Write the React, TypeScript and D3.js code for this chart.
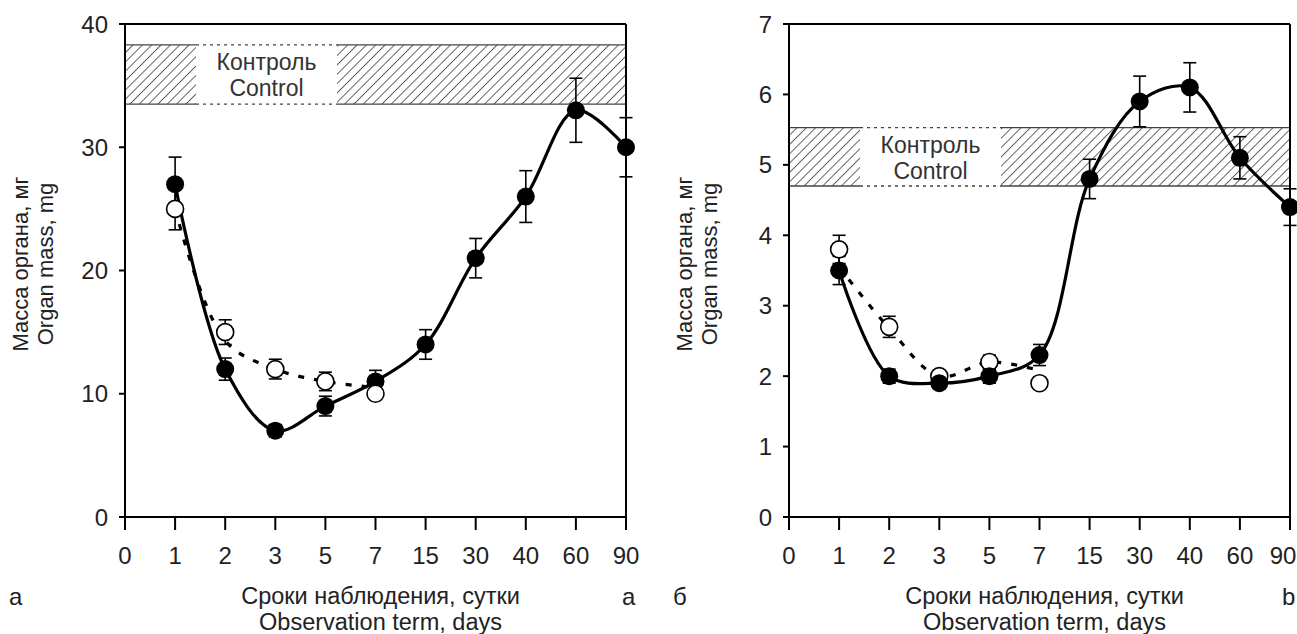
import React from 'react';
import * as d3 from 'd3';

// ---------- DATA ----------
const dayLabels = ["0", "1", "2", "3", "5", "7", "15", "30", "40", "60", "90"];
const filledDays = ["1", "2", "3", "5", "7", "15", "30", "40", "60", "90"];
const openDays = ["1", "2", "3", "5", "7"];

// Panel a
const leftFilled = [27, 12, 7, 9, 11, 14, 21, 26, 33, 30];
const leftFilledErr = [2.2, 0.9, 0.5, 0.8, 0.9, 1.2, 1.6, 2.1, 2.6, 2.4];
const leftOpen = [25, 15, 12, 11, 10];
const leftOpenErr = [1.7, 1.0, 0.8, 0.75, 0.4];
const leftOpenLine = [25, 14.3, 12, 11, 10.5];
const leftControl = [33.5, 38.3];
const leftYTicks = [0, 10, 20, 30, 40];

// Panel b
const rightFilled = [3.5, 2.0, 1.9, 2.0, 2.3, 4.8, 5.9, 6.1, 5.1, 4.4];
const rightFilledErr = [0.2, 0.1, 0.08, 0.1, 0.15, 0.28, 0.36, 0.35, 0.3, 0.26];
const rightOpen = [3.8, 2.7, 2.0, 2.2, 1.9];
const rightOpenErr = [0.2, 0.15, 0.08, 0.1, 0.08];
const rightOpenLine = [3.55, 2.68, 2.0, 2.2, 2.08];
const rightControl = [4.7, 5.53];
const rightYTicks = [0, 1, 2, 3, 4, 5, 6, 7];

const yTitle = ["Масса органа, мг", "Organ mass, mg"];
const xTitle = ["Сроки наблюдения, сутки", "Observation term, days"];
const controlText = ["Контроль", "Control"];

const FONT = "'Liberation Sans', Arial, sans-serif";
const TXT = "#222";
const FS = 24;
const W = 1297;

type PanelProps = {
  x0: number;
  x1: number;
  yMax: number;
  yTicks: number[];
  filled: number[];
  filledErr: number[];
  open: number[];
  openErr: number[];
  openLine: number[];
  control: number[];
  openOnTop: boolean;
  letterLeft: string;
  letterRight: string;
  hatchId: string;
};

function Panel(p: PanelProps) {
  const yTop = 24;
  const yBot = 517;
  const x = d3.scalePoint<string>().domain(dayLabels).range([p.x0, p.x1]);
  const y = d3.scaleLinear().domain([0, p.yMax]).range([yBot, yTop]);
  const line = d3
    .line<[string, number]>()
    .x((d) => x(d[0]) as number)
    .y((d) => y(d[1]))
    .curve(d3.curveCatmullRom.alpha(0.5));

  const filledPts: [string, number][] = filledDays.map((d, i) => [d, p.filled[i]]);
  const openLinePts: [string, number][] = openDays.map((d, i) => [d, p.openLine[i]]);

  const bandTop = y(p.control[1]);
  const bandBot = y(p.control[0]);
  const boxL = p.x0 + 71;
  const boxR = p.x0 + 212;
  const boxC = (boxL + boxR) / 2;
  const r = 9;
  const cap = 6.5;

  const errBars = (days: string[], vals: number[], errs: number[], key: string) =>
    days.map((d, i) => {
      const cx = x(d) as number;
      const t = y(vals[i] + errs[i]);
      const b = y(vals[i] - errs[i]);
      return (
        <g key={key + i} stroke="#000" strokeWidth={1.6}>
          <line x1={cx} x2={cx} y1={t} y2={b} />
          <line x1={cx - cap} x2={cx + cap} y1={t} y2={t} />
          <line x1={cx - cap} x2={cx + cap} y1={b} y2={b} />
        </g>
      );
    });

  const filledMarks = filledDays.map((d, i) => (
    <circle key={'f' + i} cx={x(d) as number} cy={y(p.filled[i])} r={r} fill="#000" />
  ));
  const openMarks = openDays.map((d, i) => (
    <circle key={'o' + i} cx={x(d) as number} cy={y(p.open[i])} r={r - 0.5} fill="#fff" stroke="#000" strokeWidth={1.6} />
  ));

  const cx = (p.x0 + p.x1) / 2 + 5;

  return (
    <g fontFamily={FONT}>
      {/* Control band */}
      <rect x={p.x0} y={bandTop} width={p.x1 - p.x0} height={bandBot - bandTop} fill={`url(#${p.hatchId})`} />
      <rect x={boxL} y={bandTop} width={boxR - boxL} height={bandBot - bandTop} fill="#fff" />
      <g stroke="#444" strokeWidth={1.3}>
        <line x1={p.x0} x2={boxL} y1={bandTop} y2={bandTop} />
        <line x1={boxR} x2={p.x1} y1={bandTop} y2={bandTop} />
        <line x1={p.x0} x2={boxL} y1={bandBot} y2={bandBot} />
        <line x1={boxR} x2={p.x1} y1={bandBot} y2={bandBot} />
        <line x1={boxL} x2={boxR} y1={bandTop} y2={bandTop} strokeDasharray="3,4" />
        <line x1={boxL} x2={boxR} y1={bandBot} y2={bandBot} strokeDasharray="3,4" />
      </g>
      <text x={boxC} y={bandTop + 25} textAnchor="middle" fontSize={23} fill="#333">{controlText[0]}</text>
      <text x={boxC} y={bandTop + 51} textAnchor="middle" fontSize={23} fill="#333">{controlText[1]}</text>

      {/* Axes box */}
      <g stroke="#000" strokeWidth={2} fill="none">
        <line x1={p.x0} x2={p.x0} y1={yTop} y2={yBot + 13} />
        <line x1={p.x1} x2={p.x1} y1={yTop} y2={yBot + 13} />
        <line x1={p.x0} x2={p.x1} y1={yBot} y2={yBot} />
        <line x1={p.x0} x2={p.x1} y1={yTop} y2={yTop} />
        {p.yTicks.map((t) => (
          <line key={'yt' + t} x1={p.x0 - 6} x2={p.x0} y1={y(t)} y2={y(t)} />
        ))}
        {dayLabels.map((d) => (
          <line key={'xt' + d} x1={x(d) as number} x2={x(d) as number} y1={yBot} y2={yBot + 13} />
        ))}
      </g>
      {p.yTicks.map((t) => (
        <text key={'yl' + t} x={p.x0 - 17} y={y(t)} dy="0.36em" textAnchor="end" fontSize={FS} fill={TXT}>
          {t}
        </text>
      ))}
      {dayLabels.map((d) => (
        <text key={'xl' + d} x={Math.min(x(d) as number, W - 14)} y={564} textAnchor="middle" fontSize={FS} fill={TXT}>
          {d}
        </text>
      ))}

      {/* Titles */}
      <text transform={`translate(${p.x0 - 97},264) rotate(-90)`} textAnchor="middle" fontSize={22} fill={TXT}>{yTitle[0]}</text>
      <text transform={`translate(${p.x0 - 72},264) rotate(-90)`} textAnchor="middle" fontSize={22} fill={TXT}>{yTitle[1]}</text>
      <text x={cx} y={604} textAnchor="middle" fontSize={23.5} fill={TXT}>{xTitle[0]}</text>
      <text x={cx} y={630} textAnchor="middle" fontSize={23.5} fill={TXT}>{xTitle[1]}</text>
      <text x={p.x0 - 116} y={605} fontSize={FS} fill={TXT}>{p.letterLeft}</text>
      <text x={Math.min(p.x1 - 4, W - 15)} y={605} fontSize={FS} fill={TXT}>{p.letterRight}</text>

      {/* Lines */}
      <path d={line(openLinePts) || ''} fill="none" stroke="#000" strokeWidth={3.2} strokeDasharray="6,10" />
      <path d={line(filledPts) || ''} fill="none" stroke="#000" strokeWidth={3.2} />

      {/* Error bars */}
      {errBars(filledDays, p.filled, p.filledErr, 'fe')}
      {errBars(openDays, p.open, p.openErr, 'oe')}

      {/* Markers */}
      {p.openOnTop ? filledMarks : openMarks}
      {p.openOnTop ? openMarks : filledMarks}
    </g>
  );
}

export default function App() {
  return (
    <svg
      width={W}
      height={634}
      style={{ position: 'absolute', left: 0, top: 0, background: '#fff' }}
    >
      <defs>
        <pattern id="hatchA" patternUnits="userSpaceOnUse" width={6.6} height={6.6} patternTransform="rotate(45)">
          <line x1={0} y1={0} x2={0} y2={6.6} stroke="#000" strokeWidth={1.2} />
        </pattern>
        <pattern id="hatchB" patternUnits="userSpaceOnUse" width={6.6} height={6.6} patternTransform="rotate(45)">
          <line x1={0} y1={0} x2={0} y2={6.6} stroke="#000" strokeWidth={1.2} />
        </pattern>
      </defs>
      <rect width={W} height={634} fill="#fff" />
      <Panel
        x0={125}
        x1={626}
        yMax={40}
        yTicks={leftYTicks}
        filled={leftFilled}
        filledErr={leftFilledErr}
        open={leftOpen}
        openErr={leftOpenErr}
        openLine={leftOpenLine}
        control={leftControl}
        openOnTop={true}
        letterLeft="а"
        letterRight="a"
        hatchId="hatchA"
      />
      <Panel
        x0={789}
        x1={1290}
        yMax={7}
        yTicks={rightYTicks}
        filled={rightFilled}
        filledErr={rightFilledErr}
        open={rightOpen}
        openErr={rightOpenErr}
        openLine={rightOpenLine}
        control={rightControl}
        openOnTop={false}
        letterLeft="б"
        letterRight="b"
        hatchId="hatchB"
      />
    </svg>
  );
}
